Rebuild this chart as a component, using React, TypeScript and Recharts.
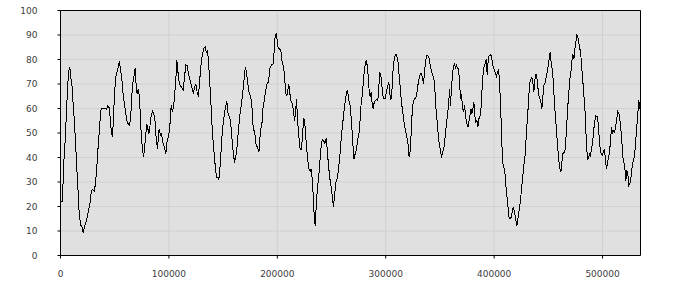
import React from 'react';
import { LineChart, Line, XAxis, YAxis, CartesianGrid, ReferenceLine } from 'recharts';

const xTicks = [0, 100000, 200000, 300000, 400000, 500000];
const yTicks = [0, 10, 20, 30, 40, 50, 60, 70, 80, 90, 100];

// [x in thousands, value]
const segment1: [number, number][] = [
  [0, 22], [1.5, 22], [2.2, 27.3], [2.8, 36.7], [3.7, 42], [4.6, 50], [5.5, 58.5], [6.5, 68], [7.4, 74.8], [8.6, 77],
  [9.8, 71.4], [11.1, 68], [11.7, 61], [12.6, 56], [13.5, 49], [14.5, 40.8], [15.4, 32.6], [16.3, 25.8], [17.2, 17.7], [18.5, 12.2],
  [19.7, 12], [20.9, 9.3], [22.1, 11.6], [23.4, 13.5], [24.9, 16], [26.1, 19], [27.4, 21.8], [28.3, 25.8], [29.2, 27], [31.1, 26.2],
  [32.0, 28.6], [32.9, 32.6], [33.8, 38], [34.8, 45], [35.7, 50], [36.6, 55.8], [37.5, 60], [39.1, 60], [40.9, 60], [42.4, 59.6],
  [43.7, 61.2], [45.2, 60], [46.1, 54.4], [47.1, 50], [48.0, 48.3], [48.9, 57], [49.8, 65.3], [50.7, 72], [52.0, 74.8], [53.2, 76.8],
  [54.4, 79.2], [55.7, 74.8], [56.6, 72], [57.5, 66.7], [58.7, 62.6], [60.0, 58.5], [61.2, 55], [62.4, 53.7], [63.7, 53], [64.6, 55.8],
  [65.5, 62.6], [66.4, 69.4], [67.7, 72.8], [68.9, 76.5], [69.8, 69.4], [70.7, 66], [71.7, 68], [72.6, 65.3], [73.5, 58.5], [74.4, 50],
  [75.3, 45], [76.6, 40.1], [77.8, 45], [78.7, 49.6], [79.6, 53.7], [80.6, 51.7], [81.5, 49.6], [82.4, 52.4], [83.6, 57], [84.9, 58.8],
  [86.1, 58], [87.3, 54.4], [88.3, 47.6], [89.5, 43.3],
];

const segment2: [number, number][] = [
  [90.1, 47.6], [91.0, 51.7], [92.3, 49], [93.2, 49.6], [94.4, 46.3], [95.9, 44.2], [97.2, 41.5], [98.4, 47], [99.6, 48.3], [100.9, 53],
  [102.1, 61.2], [103.3, 58.5], [104.6, 62], [105.5, 66.7], [106.4, 72], [107.3, 79.6], [108.2, 75.5], [109.2, 71.4], [110.4, 69.4], [111.9, 68.7],
  [113.2, 67.3], [114.4, 72.8], [115.6, 77.8], [116.9, 77.5], [118.1, 74], [119.3, 72], [120.5, 70], [121.8, 67.3], [122.7, 66], [123.6, 68.7],
  [124.9, 70], [126.1, 66.4], [127.3, 65.3], [128.5, 72], [129.8, 78.9], [131.0, 82.3], [132.2, 84.6], [133.5, 85], [134.4, 83], [135.6, 83.7],
  [136.5, 79.6], [137.5, 72], [138.4, 65.3], [139.3, 57], [140.2, 50], [141.1, 45], [142.1, 39.5], [143.0, 35.4], [143.9, 32], [145.1, 32],
  [146.1, 31.1], [147.0, 35.4], [147.9, 40.8], [148.8, 47.6], [149.8, 53], [151.0, 57], [152.2, 60.5], [153.4, 62.9], [154.4, 58.5], [155.6, 56.5],
  [156.8, 55.1], [157.8, 50], [158.7, 45], [159.6, 40.8], [160.5, 38.4], [161.4, 39.5], [162.4, 42.2], [163.3, 46.3], [164.2, 51.7], [165.4, 57],
  [166.7, 61.2], [167.9, 65.3], [169.1, 70.7], [170.4, 76.9], [171.6, 74.8], [172.8, 70], [174.1, 66], [175.3, 65.3], [176.5, 61.2], [177.7, 52.4],
];

const segment3: [number, number][] = [
  [179.3, 49.6], [180.5, 45], [181.7, 44.2], [183.0, 42.2], [183.9, 47.6], [184.8, 51.7], [185.7, 53], [186.7, 60], [187.9, 63.3], [189.1, 66.7],
  [190.3, 70], [191.6, 70.7], [192.5, 73.5], [193.4, 76.9], [194.7, 77.8], [195.9, 77.8], [196.8, 81.6], [197.7, 88.4], [199.0, 90.9], [199.9, 87.8],
  [200.8, 84.4], [202.0, 84.4], [203.3, 83.7], [204.2, 79.6], [205.1, 78.2], [206.0, 76.2], [207.0, 70.7], [207.9, 66], [208.8, 65.3], [209.7, 67.3],
  [210.6, 70], [211.6, 66], [212.5, 63.3], [213.4, 62.6], [214.6, 60], [215.9, 55], [216.8, 58.5], [217.7, 63.9], [218.6, 55.8], [219.9, 48.3],
  [221.1, 43.3], [222.3, 43.3], [223.6, 51.7], [224.5, 56.1], [225.4, 53.7], [226.6, 46.3], [227.9, 39.5], [229.1, 35.6], [230.3, 34.3], [231.2, 35.4],
  [232.2, 31.3], [233.1, 24.5], [234.0, 16.3], [234.9, 12.2], [235.9, 20.4], [236.8, 26.5], [238.0, 31.3], [239.2, 38.1], [240.2, 43.5], [241.4, 47.2],
  [242.6, 47], [243.9, 45.6], [245.1, 47.9], [246.0, 43.5], [247.2, 36.7], [248.5, 31.3], [249.7, 27.9], [250.9, 23.1], [251.8, 20], [252.8, 24.5],
  [254.0, 29.9], [255.2, 31.3], [256.5, 35.4], [257.7, 40.8], [258.9, 47.6], [260.1, 53], [261.4, 58.5], [262.6, 62.6], [263.8, 66.7], [264.8, 67.3],
  [266.0, 63.3], [267.2, 61.2],
];

const segment4: [number, number][] = [
  [268.4, 54.4], [269.4, 47.6], [270.6, 39.2], [271.8, 41.5], [273.1, 43.5], [274.3, 47.6], [275.5, 50.3], [276.4, 55.8], [277.4, 62.6], [278.3, 65.3],
  [279.2, 70], [280.1, 74.8], [281.1, 78.2], [282.0, 79.9], [282.9, 77.5], [283.8, 73.5], [284.7, 67.3], [285.7, 64.6], [286.6, 66.7], [287.5, 61.9],
  [288.4, 60], [289.4, 62.6], [290.6, 63.3], [291.8, 63.9], [292.7, 63.3], [293.7, 69.4], [294.6, 74.8], [295.5, 73.5], [296.4, 69.4], [297.4, 65.3],
  [298.3, 63.9], [299.5, 63.9], [300.7, 67.3], [302.0, 69.4], [302.9, 70.7], [303.8, 66], [304.7, 63.3], [305.7, 67.3], [306.6, 74.8], [307.5, 78.9],
  [308.7, 81.9], [310.0, 81.9], [311.2, 79.6], [312.4, 73.5], [313.7, 66.7], [314.9, 61.2], [316.1, 57], [317.3, 53], [318.6, 50.3], [319.8, 47.6],
  [320.7, 45], [321.6, 40.1], [322.6, 42.9], [323.5, 50.3], [324.4, 58.5], [325.3, 62.6], [326.6, 63.9], [327.8, 64.6], [328.7, 66], [329.6, 69.4],
  [330.6, 71.8], [331.8, 74.1], [333.0, 74.1], [333.9, 72.8], [334.9, 70], [335.8, 75.5], [336.7, 78.9], [337.6, 81.6], [338.9, 81.6], [340.1, 80.3],
  [341.3, 76.9], [342.6, 74.8], [343.8, 72.8], [345.0, 70.7], [345.9, 62.6], [346.9, 57], [347.8, 53], [348.7, 47.6], [349.6, 45], [350.6, 42.9],
  [351.5, 39.7], [352.4, 42.2], [353.6, 43.5], [354.9, 49], [356.1, 54.4], [357.3, 58.5], [358.2, 63.3],
];

const segment5: [number, number][] = [
  [358.9, 68], [359.8, 61.2], [360.7, 69.4], [361.6, 73.5], [362.5, 77.5], [363.5, 78.2], [364.4, 76.2], [365.3, 77.5], [366.2, 76.2], [367.2, 76.2],
  [368.1, 70.7], [369.0, 63.9], [369.9, 66], [370.8, 60.5], [371.8, 58.5], [372.7, 61.2], [373.6, 57], [374.5, 54.4], [375.8, 52.4], [376.7, 54.4],
  [377.6, 57], [378.5, 59.9], [379.5, 58], [380.4, 59.9], [381.3, 62.6], [382.2, 57], [383.1, 54.4], [384.1, 55], [385.0, 52.4], [385.9, 55.8],
  [387.1, 57], [388.1, 61.2], [389.0, 69.4], [389.9, 74.8], [390.8, 77.5], [391.8, 78.2], [392.7, 80.3], [393.6, 73.5], [394.5, 79.6], [395.4, 81.6],
  [397.0, 81.9], [397.9, 80.3], [398.8, 77.5], [399.7, 76.2], [401.0, 74.8], [402.2, 73.2], [403.1, 74.8], [404.1, 76.2], [405.0, 70.7], [405.9, 61.2],
  [406.8, 50.3], [407.7, 38.1], [409.0, 36.1], [410.2, 32.6], [411.1, 27.2], [412.0, 23.1], [413.0, 19], [413.9, 15], [415.1, 15], [416.0, 16],
  [417.0, 19], [417.9, 19.6], [418.8, 17.7], [419.7, 15], [421.0, 12.2], [421.9, 15], [422.8, 17.7], [423.7, 20.4], [424.7, 24.5], [425.6, 28.6],
  [426.5, 32.6], [427.4, 36.7], [428.3, 39.5], [429.3, 46.3], [430.2, 53], [431.1, 58.5], [432.0, 65.3], [433.0, 70.7], [433.9, 72], [434.8, 72.8],
  [435.7, 70.7], [436.6, 66.7], [437.6, 72], [438.5, 74.1], [439.4, 72.8], [440.3, 68.7], [441.3, 65.3], [442.2, 63.9], [443.1, 62.6], [444.0, 59.9],
  [445.0, 65.3], [445.9, 69.4], [447.1, 70.7], [448.3, 73.5],
];

const segment6: [number, number][] = [
  [449.9, 77.5], [450.8, 80.3], [451.7, 83], [452.6, 78.9], [453.9, 74.8], [454.8, 69.4], [455.7, 61.2], [456.6, 57], [457.6, 50.3], [458.5, 45],
  [459.4, 39.5], [460.6, 35.4], [461.6, 34.3], [462.5, 38.1], [463.4, 41.5], [464.3, 42.2], [465.2, 42], [466.2, 47.6], [467.1, 54.4], [468.0, 61.2],
  [468.9, 66.7], [469.9, 72], [470.8, 74.8], [471.7, 79.6], [472.6, 82.3], [473.6, 80.3], [474.5, 84.4], [475.4, 87.1], [476.3, 90.1], [477.2, 89.1],
  [478.2, 86.4], [479.1, 84.4], [480.0, 81.6], [480.9, 76.2], [481.9, 70.7], [482.8, 65.3], [483.7, 59.9], [484.3, 54.4], [485.2, 45], [486.2, 39.2],
  [487.1, 40.1], [488.0, 41.5], [488.9, 40.8], [489.8, 43.5], [490.8, 46.3], [491.7, 50.3], [492.6, 54.4], [493.8, 57], [495.4, 56.8], [496.3, 51.7],
  [497.2, 46.3], [498.2, 42.2], [499.1, 41.5], [500.0, 41], [500.9, 42.9], [501.8, 43.3], [502.8, 38.1], [503.7, 35.4], [504.6, 38.1], [505.5, 40.1],
  [506.5, 42.2], [507.4, 47.6], [508.3, 52.4], [509.2, 49.6], [510.1, 51], [511.1, 50.3], [512.0, 52.4], [512.9, 55.1], [514.1, 58.8], [515.1, 58],
  [516.0, 55.1], [516.9, 51.7], [517.8, 46.3], [518.8, 40.1], [519.7, 38.1], [520.6, 35.4], [521.5, 30.6], [522.4, 34.7], [523.4, 32.6], [524.3, 28.6],
  [525.2, 29.3], [526.1, 31.3], [527.1, 35.4], [528.0, 38.1], [528.9, 39.5], [529.8, 42.2], [530.7, 47.6], [531.7, 53], [532.6, 58.5], [533.5, 63.3],
  [534.4, 60],
];

const data = [...segment1, ...segment2, ...segment3, ...segment4, ...segment5, ...segment6].map(([k, v]) => ({
  x: Math.round(k * 1000),
  v,
}));

const tickStyle = { fill: '#404040', fontSize: 9, fontFamily: 'DejaVu Sans' };

export default function App() {
  return (
    <div style={{ position: 'absolute', left: 0, top: 0, width: 700, height: 300, background: '#fff' }}>
      <LineChart
        width={700}
        height={300}
        data={data}
        margin={{ top: 10.5, right: 9.5, bottom: 14.5, left: 0.5 }}
      >
        <CartesianGrid fill="#e0e0e0" stroke="#d0d0d0" />
        <XAxis
          type="number"
          dataKey="x"
          domain={[0, 535000]}
          ticks={xTicks}
          interval={0}
          allowDataOverflow
          height={30}
          tickSize={3}
          tickMargin={12}
          stroke="#000"
          tick={tickStyle}
        />
        <YAxis
          orientation="left"
          domain={[0, 100]}
          ticks={yTicks}
          interval={0}
          width={60}
          tickSize={3}
          tickMargin={20}
          stroke="#000"
          tick={tickStyle}
        />
        <YAxis
          yAxisId="r"
          orientation="right"
          domain={[0, 100]}
          ticks={yTicks}
          interval={0}
          width={50}
          tickSize={3}
          tickMargin={18}
          stroke="#000"
          tick={{ ...tickStyle, textAnchor: 'start' }}
        />
        <ReferenceLine y={100} stroke="#000" />
        <Line
          type="linear"
          dataKey="v"
          stroke="#000"
          strokeWidth={1}
          shapeRendering="crispEdges"
          dot={false}
          activeDot={false}
          isAnimationActive={false}
        />
      </LineChart>
    </div>
  );
}
